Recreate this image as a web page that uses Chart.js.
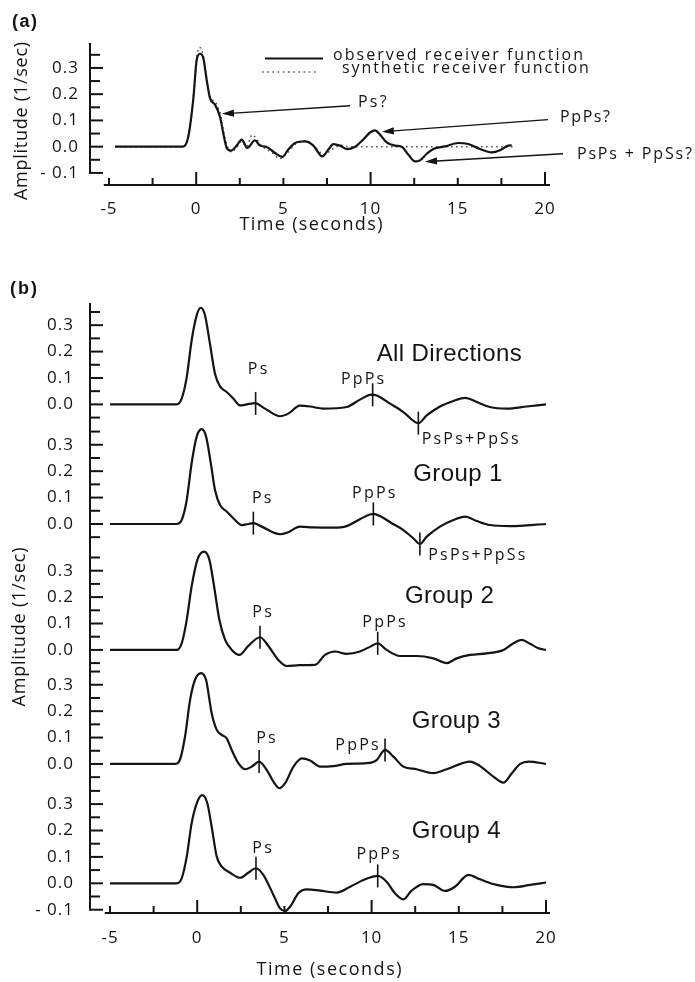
<!DOCTYPE html>
<html lang="en">
<head>
<meta charset="utf-8">
<title>Receiver functions</title>
<script src="https://cdn.jsdelivr.net/npm/chart.js@4.4.1/dist/chart.umd.min.js"></script>
<style>
  html, body { margin: 0; padding: 0; background: #ffffff; }
  #page { position: relative; width: 695px; height: 982px; overflow: hidden; background: #ffffff; }
  #page canvas { position: absolute; left: 0; }
</style>
</head>
<body>
<div id="page">
  <canvas id="panelA" width="695" height="260" style="top:0px"></canvas>
  <canvas id="panelB" width="695" height="722" style="top:260px"></canvas>
</div>
<script>
// ------------------------------------------------------------------ DATA
const xTickValues = [-5, 0, 5, 10, 15, 20];
const yTickValuesA = [-0.1, 0, 0.1, 0.2, 0.3];
const yTickValuesB = [0, 0.1, 0.2, 0.3];
const yBottomTickB = -0.1;

// panel (a)
const legendNames = ['observed receiver function', 'synthetic receiver function'];
const phaseNamesA = ['Ps?', 'PpPs?', 'PsPs + PpSs?'];

const timeObserved = [-4.65, -0.75, -0.45, -0.17, 0.03, 0.22, 0.41, 0.60, 0.79, 1.08, 1.36, 1.55, 1.75, 2.0, 2.32, 2.61, 2.93, 3.37, 3.66, 4.04, 4.52, 4.94, 5.28, 5.67, 6.24, 6.72, 7.23, 7.58, 7.86, 8.25, 8.63, 9.11, 9.58, 9.97, 10.25, 10.54, 10.92, 11.40, 11.78, 12.16, 12.55, 12.83, 13.22, 13.60, 14.27, 15.03, 15.60, 16.27, 16.94, 17.42, 17.89, 18.09];
const ampObserved  = [0, 0, 0.039, 0.179, 0.331, 0.354, 0.337, 0.255, 0.185, 0.160, 0.115, 0.052, -0.005, -0.015, 0.004, 0.027, -0.005, 0.024, 0.004, -0.001, -0.024, -0.039, -0.011, 0.014, 0.020, 0.004, -0.037, -0.011, 0.010, 0.004, -0.009, 0, 0.027, 0.054, 0.062, 0.046, 0.016, 0.004, 0, -0.030, -0.056, -0.052, -0.027, -0.009, 0.001, 0.014, 0.010, -0.009, -0.022, -0.014, 0.004, 0.005];

const timeSynthetic = [-4.65, -0.8, -0.45, -0.15, 0.05, 0.2, 0.4, 0.6, 0.8, 1.1, 1.4, 1.6, 1.8, 2.0, 2.3, 2.6, 2.9, 3.2, 3.5, 3.8, 4.3, 4.8, 5.2, 5.7, 6.3, 6.8, 7.3, 7.8, 8.3, 8.8, 18.2];
const ampSynthetic  = [0, 0, 0.04, 0.19, 0.35, 0.378, 0.35, 0.26, 0.19, 0.17, 0.12, 0.05, 0.0, -0.02, -0.005, 0.02, 0.0, 0.045, 0.025, 0.0, -0.02, -0.045, -0.025, 0.01, 0.022, 0.0, -0.03, -0.01, 0.005, 0.0, 0.0];

// panel (b)
const traceNames = ['All Directions', 'Group 1', 'Group 2', 'Group 3', 'Group 4'];
const phaseNamesB = ['Ps', 'PpPs', 'PsPs+PpSs'];

const timeAll = [-5, -1.18, -0.89, -0.60, -0.32, -0.03, 0.20, 0.45, 0.73, 1.02, 1.31, 1.69, 2.07, 2.45, 2.84, 3.31, 3.89, 4.75, 5.22, 5.89, 6.47, 7.23, 8.57, 9.33, 10.0, 10.29, 11.06, 11.82, 12.68, 13.16, 13.92, 14.69, 15.36, 16.03, 16.79, 17.75, 18.90, 20.0];
const ampAll  = [0, 0, 0.022, 0.103, 0.242, 0.337, 0.366, 0.337, 0.230, 0.116, 0.068, 0.047, 0.022, -0.004, 0.0, 0.005, -0.016, -0.045, -0.035, -0.005, -0.008, -0.016, -0.010, 0.018, 0.037, 0.034, 0.003, -0.029, -0.071, -0.042, -0.008, 0.013, 0.025, 0.009, -0.010, -0.016, -0.008, 0.0];

const timeGroup1 = [-5, -1.18, -0.89, -0.60, -0.32, -0.03, 0.26, 0.51, 0.78, 1.02, 1.31, 1.69, 2.17, 2.55, 2.93, 3.22, 3.70, 4.75, 5.22, 5.89, 6.66, 7.80, 8.57, 9.33, 10.10, 10.48, 11.15, 11.82, 12.39, 12.77, 13.16, 13.92, 14.69, 15.36, 16.03, 16.79, 17.94, 20.0];
const ampGroup1  = [0, 0, 0.015, 0.091, 0.230, 0.331, 0.359, 0.331, 0.230, 0.129, 0.072, 0.047, 0.015, -0.004, 0.0, 0.003, -0.010, -0.039, -0.031, -0.010, -0.013, -0.014, -0.008, 0.018, 0.038, 0.030, 0.003, -0.023, -0.054, -0.076, -0.048, -0.010, 0.015, 0.028, 0.011, -0.004, -0.008, 0.0];

const timeGroup2 = [-5, -1.18, -0.89, -0.60, -0.32, 0.01, 0.39, 0.70, 0.97, 1.27, 1.60, 1.98, 2.42, 2.93, 3.60, 4.08, 4.65, 5.13, 5.89, 6.75, 7.33, 7.90, 8.57, 9.33, 10.0, 10.35, 10.86, 11.63, 12.58, 13.54, 14.31, 14.88, 15.65, 16.60, 17.56, 18.13, 18.61, 19.09, 19.57, 20.0];
const ampGroup2  = [0, 0, 0.025, 0.114, 0.240, 0.341, 0.372, 0.341, 0.240, 0.114, 0.038, 0.0, -0.019, 0.015, 0.048, 0.015, -0.038, -0.061, -0.058, -0.057, -0.019, -0.006, -0.015, -0.006, 0.015, 0.025, 0.0, -0.023, -0.023, -0.032, -0.050, -0.032, -0.019, -0.013, 0.0, 0.025, 0.038, 0.023, 0.006, 0.0];

const timeGroup3 = [-5, -1.28, -0.99, -0.70, -0.41, -0.13, 0.22, 0.51, 0.83, 1.12, 1.41, 1.69, 1.98, 2.36, 2.75, 3.13, 3.55, 3.99, 4.37, 4.72, 5.04, 5.52, 6.0, 6.47, 7.05, 7.80, 8.57, 9.72, 10.29, 10.77, 11.25, 11.82, 12.58, 13.54, 14.31, 15.65, 16.22, 16.98, 17.56, 18.04, 18.52, 19.0, 20.0];
const ampGroup3  = [0, 0, 0.016, 0.103, 0.242, 0.318, 0.344, 0.318, 0.192, 0.129, 0.110, 0.097, 0.053, 0.003, -0.020, -0.010, 0.009, -0.023, -0.067, -0.092, -0.073, -0.010, 0.021, 0.013, -0.010, -0.008, 0.0, 0.003, 0.015, 0.053, 0.028, -0.010, -0.020, -0.035, -0.020, 0.009, -0.008, -0.048, -0.071, -0.035, 0.0, 0.009, 0.0];

const timeGroup4 = [-5, -1.18, -0.89, -0.60, -0.32, 0.01, 0.29, 0.58, 0.83, 1.12, 1.41, 1.89, 2.46, 2.93, 3.37, 3.79, 4.37, 4.75, 5.04, 5.33, 5.81, 6.28, 7.05, 8.0, 8.77, 9.63, 10.35, 10.86, 11.34, 11.82, 12.29, 12.96, 13.54, 14.21, 14.78, 15.55, 16.22, 17.17, 18.13, 19.09, 20.0];
const ampGroup4  = [0, 0, 0.019, 0.101, 0.227, 0.309, 0.334, 0.303, 0.214, 0.101, 0.063, 0.040, 0.021, 0.040, 0.057, 0.032, -0.044, -0.095, -0.105, -0.088, -0.037, -0.023, -0.028, -0.035, -0.013, 0.015, 0.028, 0.006, -0.038, -0.061, -0.028, -0.003, -0.006, -0.029, -0.013, 0.032, 0.015, -0.006, -0.015, -0.006, 0.003];

// picked phase arrival times (seconds) for each trace
const psTimes   = [3.35, 3.22, 3.60, 3.55, 3.37];
const pppsTimes = [10.06, 10.10, 10.35, 10.77, 10.35];
const pspsTimes = [12.68, 12.77, null, null, null];

// ------------------------------------------------------------------ LAYOUT / STYLE
const INK = '#141414';
const FONT_SANS = '"Open Sans", "Noto Sans", sans-serif';
const FONT_ARIAL = '"Liberation Sans", Arial, sans-serif';
const TICK_SPACING = '1px';

// vertical shift of each stacked trace in panel (b), in amplitude units
const TRACE_OFFSETS = [1.814, 1.361, 0.884, 0.452, 0];

// annotation anchors in data coordinates [time, amplitude relative to the trace]
const LABELS_B = [
  { ps: [3.46, 0.133], ppps: [9.48, 0.093],  psps: [12.87, -0.133], title: [10.29, 0.165], titleW: 145 },
  { ps: [3.70, 0.098], ppps: [10.12, 0.114], psps: [13.25, -0.121], title: [12.39, 0.161], titleW: 89 },
  { ps: [3.72, 0.142], ppps: [10.71, 0.104], psps: null,            title: [11.91, 0.178], titleW: 89 },
  { ps: [3.94, 0.097], ppps: [9.16, 0.072],  psps: null,            title: [12.30, 0.136], titleW: 89 },
  { ps: [3.72, 0.131], ppps: [10.37, 0.111], psps: null,            title: [12.30, 0.172], titleW: 89 }
];
const PHASE_W_B = [21, 47.5, 107];

const ARROWS_A = [
  { tail: [8.82, 0.156],   tip: [1.48, 0.125],   text: [9.28, 0.167],   w: 29 },
  { tail: [20.17, 0.103],  tip: [10.65, 0.057],  text: [20.86, 0.110],  w: 50 },
  { tail: [21.03, -0.027], tip: [13.12, -0.057], text: [21.83, -0.030], w: 115 }
];

// ------------------------------------------------------------------ HELPERS
function seg(ctx, x1, y1, x2, y2) {
  ctx.beginPath(); ctx.moveTo(x1, y1); ctx.lineTo(x2, y2); ctx.stroke();
}

function spacedText(ctx, text, x, y, font, width, align, baseline) {
  ctx.save();
  ctx.font = font;
  ctx.textAlign = 'left';
  ctx.textBaseline = baseline || 'middle';
  ctx.fillStyle = INK;
  const canSpace = 'letterSpacing' in ctx;
  if (canSpace) ctx.letterSpacing = '0px';
  const natural = ctx.measureText(text).width;
  let w = natural;
  if (canSpace && text.length > 1) {
    const sp = Math.max(-1, Math.min(2.2, (width - natural) / (text.length - 1)));
    ctx.letterSpacing = sp.toFixed(2) + 'px';
    w = natural + sp * (text.length - 1);
  }
  const left = align === 'center' ? x - w / 2 : (align === 'right' ? x - w : x);
  ctx.fillText(text, left, y);
  ctx.restore();
}

function rotatedText(ctx, text, cx, cy, font, width) {
  ctx.save();
  ctx.translate(cx, cy);
  ctx.rotate(-Math.PI / 2);
  spacedText(ctx, text, 0, 0, font, width, 'center', 'middle');
  ctx.restore();
}

function arrow(ctx, x1, y1, x2, y2) {
  const ang = Math.atan2(y2 - y1, x2 - x1), L = 12, W = 3.6;
  const bx = x2 - L * Math.cos(ang), by = y2 - L * Math.sin(ang);
  seg(ctx, x1, y1, bx, by);
  ctx.beginPath();
  ctx.moveTo(x2, y2);
  ctx.lineTo(bx + W * Math.sin(ang), by - W * Math.cos(ang));
  ctx.lineTo(bx - W * Math.sin(ang), by + W * Math.cos(ang));
  ctx.closePath(); ctx.fill();
}

function interp(ts, as, t) {
  for (let i = 1; i < ts.length; i++) {
    if (t <= ts[i]) {
      const f = (t - ts[i - 1]) / (ts[i] - ts[i - 1]);
      return as[i - 1] + f * (as[i] - as[i - 1]);
    }
  }
  return as[as.length - 1];
}

function fmtAmp(v) {
  return v < -1e-9 ? '- ' + Math.abs(v).toFixed(1) : Math.abs(v).toFixed(1);
}

function drawTimeAxis(ctx, xs, y, right) {
  ctx.lineWidth = 2;
  seg(ctx, xs.getPixelForValue(-5.3), y, right, y);
  for (let k = -2; k <= 8; k++) {
    const v = k * 2.5;
    const x = xs.getPixelForValue(v);
    const len = (v % 10 === 0) ? 13 : 7;
    seg(ctx, x, y + 1, x, y - len);
  }
}

function drawAmpTicks(ctx, ys, x, zero, kFrom, kTo) {
  for (let k = kFrom; k <= kTo; k++) {
    const y = ys.getPixelForValue(zero + k / 20);
    seg(ctx, x, y, x + (k % 2 === 0 ? 13 : 10), y);
  }
}

function xScale(min, max, pad, height) {
  return {
    type: 'linear', position: 'bottom', min: min, max: max,
    grid: { display: false, drawTicks: false }, border: { display: false },
    afterBuildTicks: s => { s.ticks = xTickValues.map(v => ({ value: v })); },
    afterFit: s => { s.height = height; },
    ticks: { autoSkip: false, maxRotation: 0, padding: pad, color: INK,
             font: { family: FONT_SANS, size: 17 }, callback: v => String(v) }
  };
}

const lineStyle = { borderColor: INK, borderWidth: 2.2, pointRadius: 0, fill: false,
                    cubicInterpolationMode: 'monotone' };

// ------------------------------------------------------------------ PANEL (a)
const panelAPlugin = {
  id: 'panelADecor',
  beforeDraw(chart) { chart.ctx.letterSpacing = TICK_SPACING; },
  afterDraw(chart) {
    const ctx = chart.ctx, xs = chart.scales.x, ys = chart.scales.y, ca = chart.chartArea;
    ctx.letterSpacing = '0px';
    ctx.save();
    ctx.strokeStyle = INK; ctx.fillStyle = INK; ctx.lineCap = 'butt';

    // axes
    ctx.lineWidth = 2;
    seg(ctx, ca.left, ca.top, ca.left, ys.getPixelForValue(-0.1) + 1);
    drawAmpTicks(ctx, ys, ca.left, 0, -2, 7);
    drawTimeAxis(ctx, xs, ca.bottom, ca.right);

    // legend
    ctx.lineWidth = 2.2;
    seg(ctx, 265, 58.5, 323, 58.5);
    ctx.save();
    ctx.setLineDash([1.6, 3.6]); ctx.strokeStyle = '#555'; ctx.lineWidth = 1.6;
    seg(ctx, 262, 72, 318, 72);
    ctx.restore();
    spacedText(ctx, legendNames[0], 333, 55, '16px ' + FONT_SANS, 250, 'left');
    spacedText(ctx, legendNames[1], 342, 68, '16px ' + FONT_SANS, 247, 'left');

    // arrows with phase labels
    ctx.lineWidth = 1.4;
    ARROWS_A.forEach((a, i) => {
      arrow(ctx, xs.getPixelForValue(a.tail[0]), ys.getPixelForValue(a.tail[1]),
                 xs.getPixelForValue(a.tip[0]), ys.getPixelForValue(a.tip[1]));
      spacedText(ctx, phaseNamesA[i], xs.getPixelForValue(a.text[0]), ys.getPixelForValue(a.text[1]),
                 '16px ' + FONT_SANS, a.w, 'left');
    });

    // titles
    rotatedText(ctx, 'Amplitude (1/sec)', 22, 121, '18px ' + FONT_SANS, 158);
    spacedText(ctx, 'Time (seconds)', 311, 230, '18px ' + FONT_SANS, 143, 'center', 'alphabetic');
    spacedText(ctx, '(a)', 12, 22, 'bold 18px ' + FONT_ARIAL, 25, 'left');
    ctx.restore();
  }
};

new Chart(document.getElementById('panelA'), {
  type: 'line',
  data: {
    datasets: [
      Object.assign({ label: legendNames[0],
        data: timeObserved.map((t, i) => ({ x: t, y: ampObserved[i] })) }, lineStyle),
      { label: legendNames[1],
        data: timeSynthetic.map((t, i) => ({ x: t, y: ampSynthetic[i] })),
        borderColor: '#555', borderWidth: 1.6, borderDash: [1.6, 3.4], pointRadius: 0,
        fill: false, cubicInterpolationMode: 'monotone' }
    ]
  },
  options: {
    responsive: false, animation: false, devicePixelRatio: 1,
    layout: { padding: { left: 0, right: 145, top: 43, bottom: 0 } },
    plugins: { legend: { display: false }, tooltip: { enabled: false } },
    scales: {
      x: xScale(-6.089, 20.287, 14, 75),
      y: {
        type: 'linear', min: -0.146, max: 0.395,
        grid: { display: false, drawTicks: false }, border: { display: false },
        afterBuildTicks: s => { s.ticks = yTickValuesA.map(v => ({ value: v })); },
        afterFit: s => { s.width = 90; },
        ticks: { autoSkip: false, padding: 11, color: INK,
                 font: { family: FONT_SANS, size: 17 }, callback: v => fmtAmp(v) }
      }
    }
  },
  plugins: [panelAPlugin]
});

// ------------------------------------------------------------------ PANEL (b)
const traces = [[timeAll, ampAll], [timeGroup1, ampGroup1], [timeGroup2, ampGroup2],
                [timeGroup3, ampGroup3], [timeGroup4, ampGroup4]];

const panelBPlugin = {
  id: 'panelBDecor',
  beforeDraw(chart) { chart.ctx.letterSpacing = TICK_SPACING; },
  afterDraw(chart) {
    const ctx = chart.ctx, xs = chart.scales.x, ys = chart.scales.y, ca = chart.chartArea;
    ctx.letterSpacing = '0px';
    ctx.save();
    ctx.strokeStyle = INK; ctx.fillStyle = INK; ctx.lineCap = 'butt';
    const last = TRACE_OFFSETS.length - 1;

    // axes
    ctx.lineWidth = 2;
    seg(ctx, ca.left, ca.top, ca.left, ys.getPixelForValue(yBottomTickB) + 1);
    TRACE_OFFSETS.forEach((off, g) => drawAmpTicks(ctx, ys, ca.left, off, g === last ? -2 : -1, 7));
    drawTimeAxis(ctx, xs, ca.bottom, ca.right);

    // phase markers, labels and trace titles
    traces.forEach(([ts, as], g) => {
      const off = TRACE_OFFSETS[g];
      ctx.lineWidth = 1.6;
      [psTimes[g], pppsTimes[g], pspsTimes[g]].forEach(t => {
        if (t == null) return;
        const x = xs.getPixelForValue(t), y = ys.getPixelForValue(off + interp(ts, as, t));
        seg(ctx, x, y - 11.5, x, y + 11.5);
      });
      const L = LABELS_B[g];
      const font = '16px ' + FONT_SANS;
      spacedText(ctx, phaseNamesB[0], xs.getPixelForValue(L.ps[0]), ys.getPixelForValue(off + L.ps[1]), font, PHASE_W_B[0], 'center');
      spacedText(ctx, phaseNamesB[1], xs.getPixelForValue(L.ppps[0]), ys.getPixelForValue(off + L.ppps[1]), font, PHASE_W_B[1], 'center');
      if (L.psps) {
        spacedText(ctx, phaseNamesB[2], xs.getPixelForValue(L.psps[0]), ys.getPixelForValue(off + L.psps[1]), font, PHASE_W_B[2], 'left');
      }
      spacedText(ctx, traceNames[g], xs.getPixelForValue(L.title[0]), ys.getPixelForValue(off + L.title[1]),
                 '24px ' + FONT_ARIAL, L.titleW, 'left', 'alphabetic');
    });

    // titles
    rotatedText(ctx, 'Amplitude (1/sec)', 20, 367, '18px ' + FONT_SANS, 159);
    spacedText(ctx, 'Time (seconds)', 329, 715, '18px ' + FONT_SANS, 145, 'center', 'alphabetic');
    spacedText(ctx, '(b)', 10, 29, 'bold 18px ' + FONT_ARIAL, 27, 'left');
    ctx.restore();
  }
};

new Chart(document.getElementById('panelB'), {
  type: 'line',
  data: {
    datasets: traces.map(([ts, as], g) => Object.assign({
      label: traceNames[g],
      data: ts.map((t, i) => ({ x: t, y: as[i] + TRACE_OFFSETS[g] }))
    }, lineStyle))
  },
  options: {
    responsive: false, animation: false, devicePixelRatio: 1,
    layout: { padding: { left: 0, right: 145, top: 43, bottom: 0 } },
    plugins: { legend: { display: false }, tooltip: { enabled: false } },
    scales: {
      x: xScale(-6.147, 20.229, 15, 69),
      y: {
        type: 'linear', min: -0.1125, max: 2.198,
        grid: { display: false, drawTicks: false }, border: { display: false },
        afterBuildTicks: s => {
          const ticks = [];
          TRACE_OFFSETS.forEach((off, g) => {
            const vals = g === TRACE_OFFSETS.length - 1 ? [yBottomTickB].concat(yTickValuesB) : yTickValuesB;
            vals.forEach(v => ticks.push({ value: off + v, lbl: fmtAmp(v) }));
          });
          ticks.sort((a, b) => a.value - b.value);
          s.ticks = ticks;
        },
        afterFit: s => { s.width = 90; },
        ticks: { autoSkip: false, padding: 16, color: INK,
                 font: { family: FONT_SANS, size: 17 },
                 callback: (v, i, ticks) => ticks[i].lbl }
      }
    }
  },
  plugins: [panelBPlugin]
});
</script>
</body>
</html>
